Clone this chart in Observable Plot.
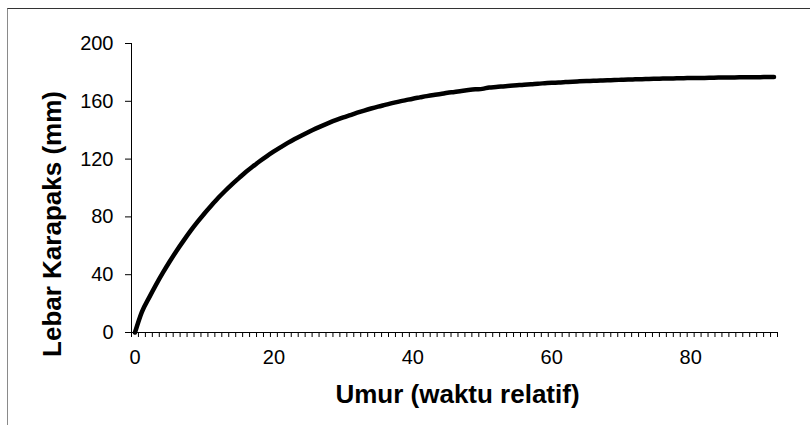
<!DOCTYPE html>
<html>
<head>
<meta charset="utf-8">
<script src="https://cdn.jsdelivr.net/npm/d3@7"></script>
<script src="https://cdn.jsdelivr.net/npm/@observablehq/plot@0.6"></script>
<style>
  html, body { margin: 0; padding: 0; background: #fff; width: 810px; height: 425px; overflow: hidden; }
  #wrap { position: relative; width: 810px; height: 425px; }
  #frame { position: absolute; left: 7px; top: 8px; width: 830px; height: 440px; border-left: 1px solid #8a8a8a; border-top: 1px solid #333; box-sizing: border-box; }
  #chart { position: absolute; left: 0; top: 0; }
  #chart g[aria-label$="tick label"] { font-size: 20px !important; }
  #chart g[aria-label$="tick label"] text { font-size: 20px !important; }
</style>
</head>
<body>
<div id="wrap"><div id="frame"></div><div id="chart"></div></div>
<script>
// Age categories (relative time), 0..92
const ages = d3.range(0, 93);
// Carapace width (mm)
const widths = [
  0.0, 14.3, 23.8, 32.8, 41.2, 49.1, 56.6, 63.6, 70.3, 76.5,
  82.4, 87.9, 93.2, 98.1, 102.7, 107.0, 111.2, 115.0, 118.7, 122.1,
  125.3, 128.3, 131.2, 133.9, 136.4, 138.8, 141.1, 143.2, 145.2, 147.1,
  148.9, 150.5, 152.1, 153.6, 155.0, 156.3, 157.5, 158.7, 159.8, 160.8,
  161.8, 162.7, 163.6, 164.4, 165.1, 165.9, 166.5, 167.2, 167.8, 168.3,
  168.6, 169.6, 169.9, 170.3, 170.7, 171.1, 171.5, 171.8, 172.2, 172.5,
  172.8, 173.0, 173.3, 173.6, 173.8, 174.0, 174.2, 174.4, 174.6, 174.7,
  174.9, 175.1, 175.2, 175.3, 175.5, 175.6, 175.7, 175.8, 175.9, 176.0,
  176.1, 176.2, 176.2, 176.3, 176.4, 176.4, 176.5, 176.6, 176.6, 176.7,
  176.7, 176.8, 176.8
];
const yTicks = [0, 40, 80, 120, 160, 200];
const xLabelTicks = [0, 20, 40, 60, 80];
const xTitle = "Umur (waktu relatif)";
const yTitle = "Lebar Karapaks (mm)";

const data = ages.map((a, i) => ({age: a, width: widths[i]}));
// category boundaries for minor tick marks (Excel-style category axis)
const boundaries = d3.range(-0.5, ages.length, 1);

const plot = Plot.plot({
  width: 810,
  height: 425,
  marginLeft: 131,
  marginRight: 33,
  marginTop: 43,
  marginBottom: 93,
  style: {fontFamily: "'Liberation Sans', Arial, sans-serif", fontSize: "20px", color: "#000", background: "transparent"},
  x: {domain: [-0.5, ages.length - 0.5]},
  y: {domain: [0, 200]},
  marks: [
    Plot.axisY({ticks: yTicks, tickSize: 6, tickPadding: 12, label: null, fontSize: 20, stroke: "#000"}),
    Plot.axisX({ticks: boundaries, tickSize: 5, tickFormat: () => "", label: null, stroke: "#000"}),
    Plot.axisX({ticks: xLabelTicks, tickSize: 0, tickPadding: 17, label: null, fontSize: 20}),
    Plot.ruleX([-0.5], {stroke: "#000"}),
    Plot.ruleY([0], {stroke: "#000"}),
    Plot.line(data, {x: "age", y: "width", stroke: "#000", strokeWidth: 4.5, strokeLinecap: "round", strokeLinejoin: "round", curve: "monotone-x"}),
    Plot.text([xTitle], {frameAnchor: "bottom", lineAnchor: "bottom", dx: 3, dy: 70, fontSize: 26, fontWeight: "bold", fill: "#000"}),
    Plot.text([yTitle], {frameAnchor: "left", rotate: -90, lineAnchor: "top", textAnchor: "middle", dx: -89, dy: 36, fontSize: 26, fontWeight: "bold", fill: "#000"})
  ]
});
document.getElementById("chart").appendChild(plot);
</script>
</body>
</html>
